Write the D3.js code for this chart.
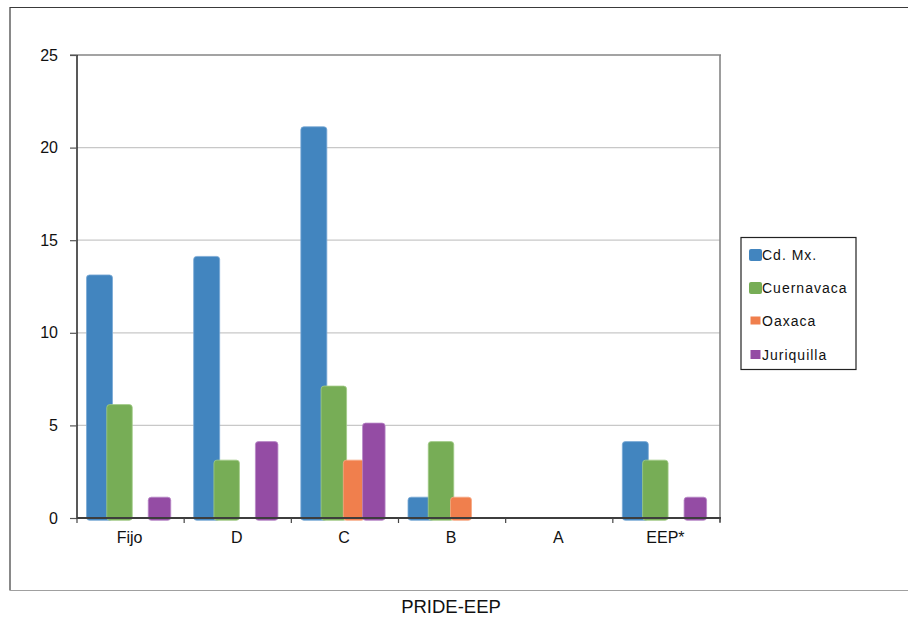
<!DOCTYPE html>
<html>
<head>
<meta charset="utf-8">
<script src="https://cdn.jsdelivr.net/npm/d3@7"></script>
<style>
  html, body { margin: 0; padding: 0; background: #fff; }
  svg { display: block; font-family: "Liberation Sans", Arial, sans-serif; }
</style>
</head>
<body>
<svg id="chart" width="908" height="618"></svg>
<script>
// PRIDE levels and the number of researchers per campus
const categories = ["Fijo", "D", "C", "B", "A", "EEP*"];
const seriesNames = ["Cd. Mx.", "Cuernavaca", "Oaxaca", "Juriquilla"];
const cdmx       = [13, 14, 21, 1, 0, 4];
const cuernavaca = [6, 3, 7, 4, 0, 3];
const oaxaca     = [0, 0, 3, 1, 0, 0];
const juriquilla = [1, 4, 5, 0, 0, 1];
const yTicks = [0, 5, 10, 15, 20, 25];
const chartTitle = "PRIDE-EEP";

const seriesValues = [cdmx, cuernavaca, oaxaca, juriquilla];
const colors = ["#4285bf", "#77ad56", "#f07f4d", "#944ca4"];
const edgeColors = ["#7aa9d6", "#a2cc88", "#f6a883", "#b886c6"];
const barWidths = [26, 25.5, 21, 22.5];
const swatch = [[13, 12], [13, 12], [10, 8], [10, 9]];

const svg = d3.select("#chart");
const plot = { left: 77, right: 720, top: 55, bottom: 518 };

// outer chart frame
svg.append("line").attr("x1", 10).attr("y1", 7.5).attr("x2", 908).attr("y2", 7.5)
  .attr("stroke", "#3a3a3a").attr("stroke-width", 1.2);
svg.append("line").attr("x1", 10).attr("y1", 7).attr("x2", 10).attr("y2", 590.5)
  .attr("stroke", "#3a3a3a").attr("stroke-width", 1.2);
svg.append("line").attr("x1", 10).attr("y1", 590.5).attr("x2", 908).attr("y2", 590.5)
  .attr("stroke", "#a0a0a0").attr("stroke-width", 1.2);

const x0 = d3.scaleBand().domain(categories).range([plot.left, plot.right]);
const x1 = d3.scaleBand().domain(seriesNames).range([12.5, 92.5]);
const y = d3.scaleLinear().domain([0, 25]).range([plot.bottom, plot.top]);

// horizontal gridlines
svg.append("g").selectAll("line").data(yTicks.filter(t => t > 0 && t < 25)).join("line")
  .attr("x1", plot.left).attr("x2", plot.right)
  .attr("y1", d => y(d)).attr("y2", d => y(d))
  .attr("stroke", "#c8c8c8").attr("stroke-width", 1.2);

// top and right border of the plot area
svg.append("line").attr("x1", plot.left - 7).attr("x2", plot.right + 1)
  .attr("y1", y(25)).attr("y2", y(25)).attr("stroke", "#858585").attr("stroke-width", 1.6);
svg.append("line").attr("x1", plot.right).attr("x2", plot.right)
  .attr("y1", y(25)).attr("y2", plot.bottom + 4).attr("stroke", "#858585").attr("stroke-width", 1.6);

// bars, drawn series by series
const barsG = svg.append("g");
seriesNames.forEach((name, si) => {
  const vals = seriesValues[si];
  barsG.append("g").selectAll("rect")
    .data(categories.map((c, i) => ({ c, v: vals[i] })).filter(d => d.v > 0))
    .join("rect")
    .attr("x", d => x0(d.c) + x1(name) + x1.bandwidth() / 2 - barWidths[si] / 2)
    .attr("y", d => y(d.v) - 2.3)
    .attr("width", barWidths[si])
    .attr("height", d => y(0) - y(d.v) + 4.6)
    .attr("rx", 3).attr("ry", 3)
    .attr("fill", colors[si])
    .attr("stroke", edgeColors[si]).attr("stroke-width", 0.8);
});

// y axis
const yAxis = svg.append("g").attr("transform", `translate(${plot.left},0)`)
  .call(d3.axisLeft(y).tickValues(yTicks).tickSize(7).tickPadding(12).tickFormat(d3.format("d")));
yAxis.select(".domain").attr("stroke", "#222").attr("stroke-width", 1.5).attr("d", `M0,${y(25)}V${plot.bottom}`);
yAxis.selectAll(".tick line").attr("stroke", "#555").attr("stroke-width", 1.2);
yAxis.selectAll(".tick text").attr("font-size", 16).attr("fill", "#111")
  .attr("font-family", "'Liberation Sans', Arial, sans-serif");

// x axis with ticks at category boundaries
const xAxis = svg.append("g").attr("transform", `translate(0,${plot.bottom})`);
xAxis.append("line").attr("x1", plot.left).attr("x2", plot.right + 1).attr("y1", 0).attr("y2", 0)
  .attr("stroke", "#3d3d3d").attr("stroke-width", 2);
const bounds = categories.map(c => x0(c)).concat([plot.right]);
xAxis.selectAll(".bt").data(bounds).join("line").attr("class", "bt")
  .attr("x1", d => d).attr("x2", d => d).attr("y1", 0).attr("y2", 5)
  .attr("stroke", "#444").attr("stroke-width", 1.2);
xAxis.selectAll(".cl").data(categories).join("text").attr("class", "cl")
  .attr("x", d => x0(d) + x0.bandwidth() / 2 - 1)
  .attr("y", 24.5)
  .attr("text-anchor", "middle").attr("font-size", 16).attr("fill", "#111")
  .text(d => d);

// legend
const lg = svg.append("g").attr("transform", "translate(741,237.5)");
lg.append("rect").attr("width", 115).attr("height", 132)
  .attr("fill", "#fff").attr("stroke", "#222").attr("stroke-width", 1.2);
const rowY = [17.5, 50.5, 83, 117];
seriesNames.forEach((name, i) => {
  const [w, h] = swatch[i];
  lg.append("rect").attr("x", 13 - w / 2 + 1.5).attr("y", rowY[i] - h / 2)
    .attr("width", w).attr("height", h).attr("rx", i < 2 ? 2 : 0)
    .attr("fill", colors[i]);
  lg.append("text").attr("x", 21).attr("y", rowY[i] + 5)
    .attr("font-size", 14).attr("letter-spacing", 1).attr("fill", "#111")
    .text(name);
});

// chart title under the frame
svg.append("text").attr("x", 451).attr("y", 613)
  .attr("text-anchor", "middle").attr("font-size", 18.5).attr("fill", "#111")
  .text(chartTitle);
</script>
</body>
</html>
